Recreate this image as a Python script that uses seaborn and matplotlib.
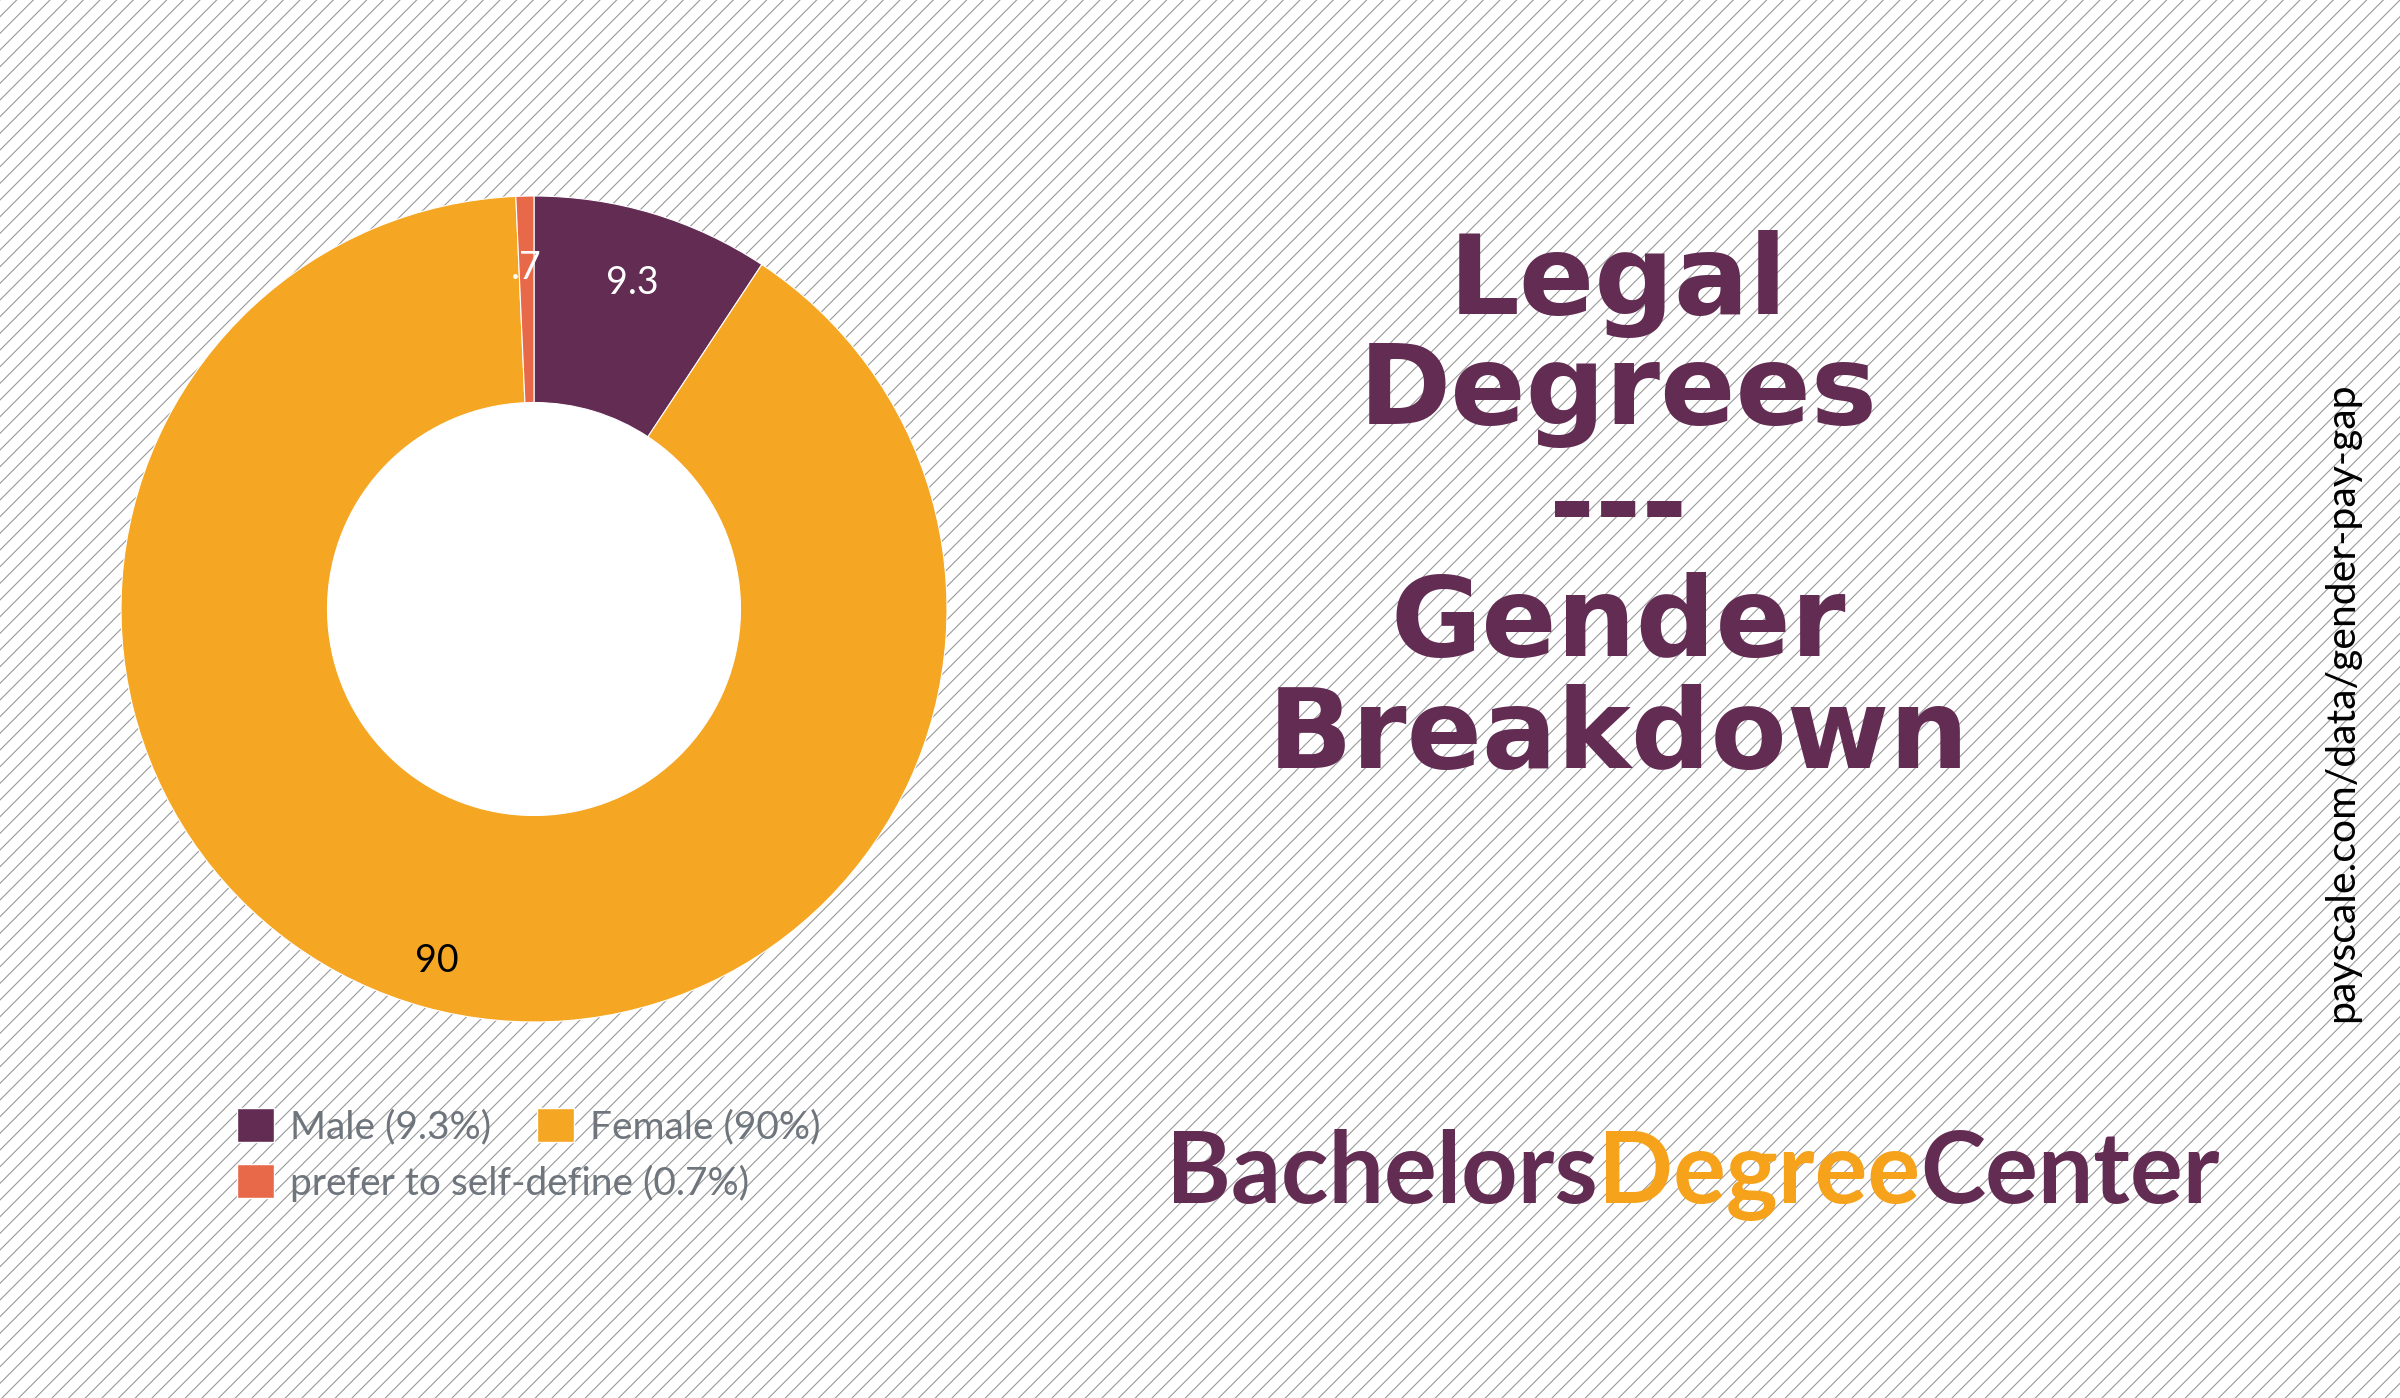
import matplotlib
matplotlib.use("Agg")
import numpy as np
import matplotlib.pyplot as plt
import seaborn as sns
from matplotlib.patches import Rectangle, Circle, Patch

# data
groups = ["Male", "Female", "prefer to self-define"]
shares = [9.3, 90, 0.7]
slice_labels = ["9.3", "90", ".7"]
slice_label_colors = ["white", "black", "white"]
legend_labels = ["Male (9.3%)", "Female (90%)", "prefer to self-define (0.7%)"]
title_lines = ["Legal", "Degrees", "---", "Gender", "Breakdown"]
brand_parts = ["Bachelors", "Degree", "Center"]
source_text = "payscale.com/data/gender-pay-gap"

purple = "#632c53"
orange = "#f5a623"
coral = "#e8694a"
palette = sns.color_palette([purple, orange, coral])
brand_colors = [purple, "#f7a21b", purple]

sns.set_style("white")
plt.rcParams["font.family"] = ["Lato", "DejaVu Sans"]
plt.rcParams["hatch.linewidth"] = 0.8
plt.rcParams["hatch.color"] = "#9a9a9a"

W, H = 2400, 1398
fig = plt.figure(figsize=(24, 13.98), dpi=100)

# striped background
fig.patches.append(Rectangle((0, 0), 1, 1, transform=fig.transFigure,
                             facecolor="white", edgecolor="#9a9a9a",
                             hatch="//", linewidth=0, zorder=-10))

# donut
cx, cy, r = 534, 609, 413
ax = fig.add_axes([(cx - r) / W, (H - cy - r) / H, 2 * r / W, 2 * r / H])
ax.set_facecolor("none")
wedges, texts, autotexts = ax.pie(
    shares, colors=palette, startangle=90, counterclock=False,
    wedgeprops=dict(width=0.5, edgecolor="white", linewidth=0.8),
    autopct=lambda p: "", pctdistance=0.84)
label_dist = [0.825, 0.885, 0.825]
for w, t, lab, col, d in zip(wedges, autotexts, slice_labels, slice_label_colors, label_dist):
    ang = np.deg2rad((w.theta1 + w.theta2) / 2)
    t.set_position((d * np.cos(ang), d * np.sin(ang)))
    t.set_text(lab)
    t.set_color(col)
    t.set_fontsize(27)
ax.add_patch(Circle((0, 0), 0.5, facecolor="white", edgecolor="none", zorder=0))
ax.set_xlim(-1, 1)
ax.set_ylim(-1, 1)
ax.axis("off")

# legend: first row Male + Female, second row self-define
handles = [Patch(facecolor=c) for c in palette]
leg_kw = dict(loc="center left", frameon=False, fontsize=28, labelcolor="#6e757c",
              handlelength=0.95, handleheight=0.95, handletextpad=0.4,
              columnspacing=1.2, borderpad=0, borderaxespad=0)
fig.legend(handles[:2], legend_labels[:2], ncol=2,
           bbox_to_anchor=(237 / W, 1 - 1127 / H), **leg_kw)
fig.legend(handles[2:], legend_labels[2:], ncol=1,
           bbox_to_anchor=(237 / W, 1 - 1183 / H), **leg_kw)

# title
title_y = [284, 395, 510, 625, 737]
for line, y in zip(title_lines, title_y):
    fig.text(1618 / W, 1 - y / H, line, ha="center", va="center",
             fontsize=80, fontweight="bold", color=purple, family="DejaVu Sans")

# brand
fig.canvas.draw()
renderer = fig.canvas.get_renderer()
x = 1166
for part, col in zip(brand_parts, brand_colors):
    t = fig.text(x / W, 1 - 1203 / H, part, ha="left", va="baseline",
                 fontsize=71, fontweight="bold", color=col)
    x += t.get_window_extent(renderer).width

# source
fig.text(2342 / W, 1 - 702 / H, source_text, rotation=90, ha="center", va="center",
         fontsize=29.5, color="black")

fig.savefig("out.png", dpi=100)
